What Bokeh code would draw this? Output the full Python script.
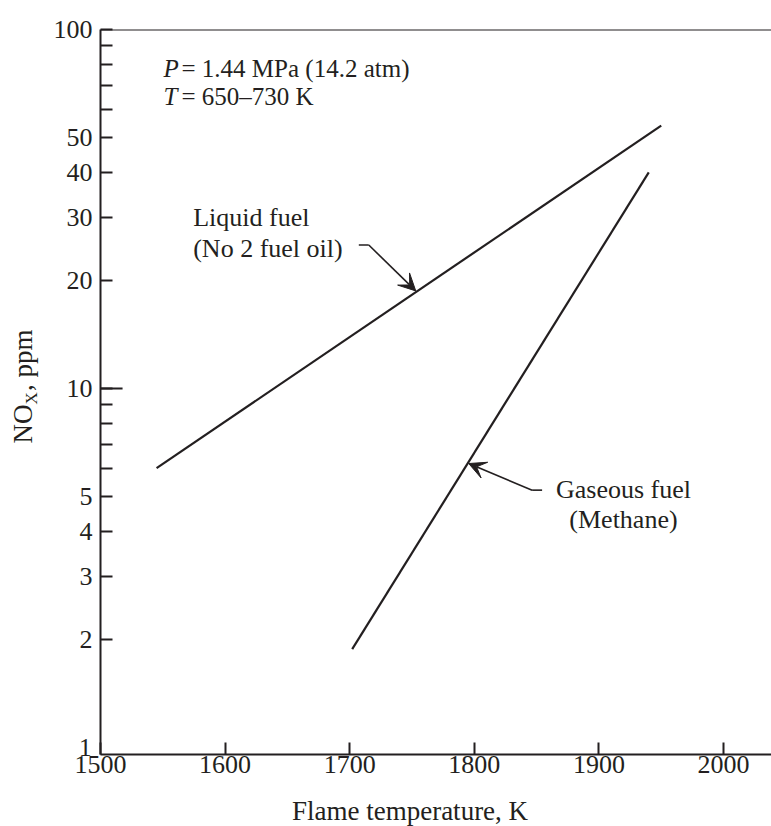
import math
from bokeh.plotting import figure
from bokeh.models import (FixedTicker, NumeralTickFormatter, Label, Arrow,
                          VeeHead, Span, Range1d)
from bokeh.embed import file_html
from bokeh.resources import INLINE

# ---------------- data ----------------
liquid_T = [1545, 1950]
liquid_nox = [6.0, 54.0]
gas_T = [1702, 1940]
gas_nox = [1.88, 40.0]

x_ticks = [1500, 1600, 1700, 1800, 1900, 2000]
y_ticks = [2, 3, 4, 5, 10, 20, 30, 40, 50, 100]
y_minor = [6, 7, 8, 9, 60, 70, 80, 90]

x_title = "Flame temperature, K"
y_title_main = "NO\u00a0\u00a0, ppm"
y_title_sub = "X"
liquid_label = ["Liquid fuel", "(No 2 fuel oil)"]
gas_label = ["Gaseous fuel", "(Methane)"]
cond_P = "= 1.44 MPa (14.2 atm)"
cond_T = "= 650\u2013730 K"

# ---------------- style ----------------
INK = "#231f20"
FONT = "Liberation Serif"

p = figure(width=771, height=826, output_backend="svg", toolbar_location=None,
           y_axis_type="log",
           x_range=Range1d(1500, 2038.5), y_range=Range1d(0.956, 100),
           min_border_left=100, min_border_right=0, min_border_top=29,
           min_border_bottom=72, background_fill_color="white",
           border_fill_color="white")
p.outline_line_color = None
p.grid.visible = False

for ax in (p.xaxis[0], p.yaxis[0]):
    ax.axis_line_color = INK
    ax.axis_line_width = 2
    ax.major_tick_line_color = INK
    ax.major_tick_line_width = 2
    ax.major_tick_in = 12
    ax.major_tick_out = 0
    ax.minor_tick_line_color = INK
    ax.minor_tick_line_width = 2
    ax.minor_tick_in = 12
    ax.minor_tick_out = 0
    ax.major_label_text_font = FONT
    ax.major_label_text_font_size = "26px"
    ax.major_label_text_color = INK

p.xaxis.ticker = FixedTicker(ticks=x_ticks)
p.xaxis.major_label_standoff = 1
p.yaxis.ticker = FixedTicker(ticks=y_ticks, minor_ticks=y_minor)
p.yaxis.formatter = NumeralTickFormatter(format="0")
p.yaxis.major_label_standoff = 8

# top frame line
p.add_layout(Span(location=100, dimension="width", line_color=INK, line_width=2))
# longer tick at 10
p.segment(x0=[1500], y0=[10], x1=[1517.7], y1=[10], line_color=INK, line_width=2)

# data lines
p.line(liquid_T, liquid_nox, line_color=INK, line_width=2.2)
p.line(gas_T, gas_nox, line_color=INK, line_width=2.2)

# leaders + arrows
p.line([1707.3, 1715.3], [25.1, 25.1], line_color=INK, line_width=1.6)
p.add_layout(Arrow(x_start=1715.3, y_start=25.1, x_end=1753, y_end=18.7,
                   line_color=INK, line_width=1.6,
                   end=VeeHead(size=17, fill_color=INK, line_color=INK, line_width=1)))
p.line([1854.4, 1846.4], [5.21, 5.21], line_color=INK, line_width=1.6)
p.add_layout(Arrow(x_start=1846.4, y_start=5.21, x_end=1795.5, y_end=6.18,
                   line_color=INK, line_width=1.6,
                   end=VeeHead(size=17, fill_color=INK, line_color=INK, line_width=1)))


def lab(x, y, text, size="25px", align="left", style="normal",
        angle=0.0, x_offset=0, place=None):
    l = Label(x=x, y=y, text=text, text_font=FONT, text_font_size=size,
              text_color=INK, text_align=align, text_baseline="middle",
              text_font_style=style, angle=angle, x_offset=x_offset)
    if place is None:
        p.add_layout(l)
    else:
        p.add_layout(l, place)


# condition text
lab(1550.6, 77.7, "P", style="italic")
lab(1565.0, 77.7, cond_P)
lab(1550.6, 65.1, "T", style="italic")
lab(1565.0, 65.1, cond_T)

# curve labels
lab(1574.4, 29.9, liquid_label[0], size="26px")
lab(1574.4, 24.56, liquid_label[1], size="26px")
lab(1919.7, 5.225, gas_label[0], size="26px", align="center")
lab(1919.7, 4.318, gas_label[1], size="26px", align="center")

# y tick label "1" (drawn in the top panel so it is not clipped)
lab(1500, 1, "1", size="25px", align="right", x_offset=-9, place="above")

# x axis title (in the panel below the frame)
lab(1748.4, 0.6637, x_title, size="27px", align="center", place="below")

# y axis title NO_X, ppm (in the panel left of the frame)
lab(1438.1, 7.027, y_title_main, size="27px", angle=math.pi / 2, place="left")
lab(1444.6, 9.025, y_title_sub, size="17px", angle=math.pi / 2, place="left")

open("out.html", "w").write(file_html(p, INLINE))
